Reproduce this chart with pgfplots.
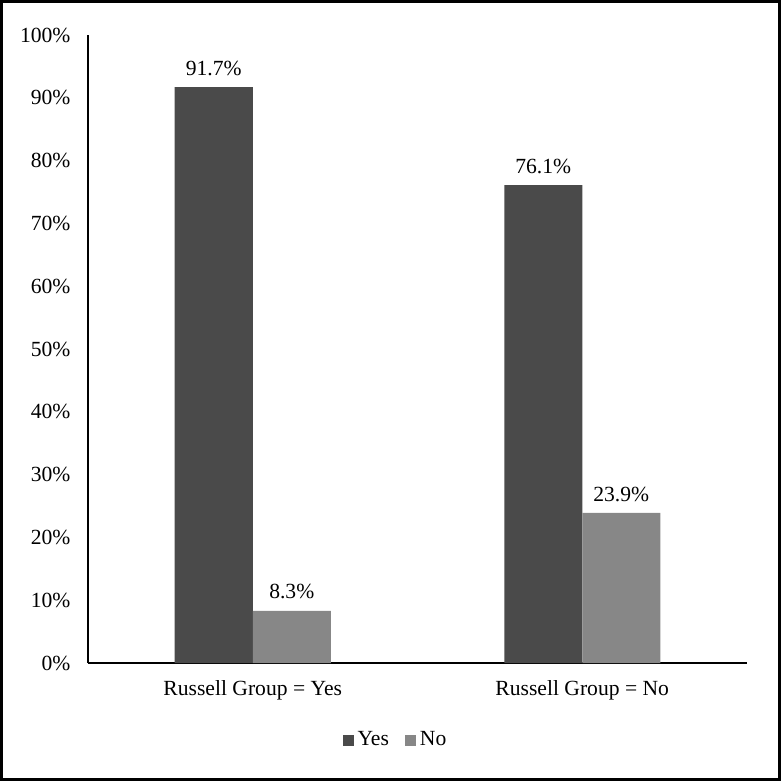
\documentclass[border=0pt]{standalone}
\usepackage{pgfplots}
\pgfplotsset{compat=1.18}
\usepackage{fontspec}
\setmainfont{Liberation Serif}
\definecolor{darkbar}{HTML}{4A4A4A}
\definecolor{lightbar}{HTML}{878787}
\begin{document}
\fontsize{10.8}{12.5}\selectfont
\begin{tikzpicture}
\useasboundingbox (-44pt,-59pt) rectangle (346.5pt,331.5pt);
\draw[line width=1.3pt] (-43.35pt,-58.35pt) rectangle (345.85pt,330.85pt);
\begin{axis}[
  at={(0,0)}, anchor=south west,
  scale only axis, width=329.5pt, height=314pt,
  /pgf/number format/assume math mode=true,
  font=\fontsize{10.8}{12.5}\selectfont,
  ybar=0pt, bar width=39pt,
  xmin=-0.5, xmax=1.5, ymin=0, ymax=100,
  axis x line*=bottom, axis y line*=left,
  axis line style={line width=0.8pt, black},
  xtick={0,1}, xticklabels={Russell Group = Yes, Russell Group = No},
  ytick={0,10,...,100},
  yticklabel={\pgfmathprintnumber{\tick}\%},
  major tick length=0pt,
  yticklabel style={xshift=-5pt},
  xticklabel style={yshift=-5pt},
  nodes near coords={\pgfmathprintnumber[fixed,precision=1,fixed zerofill]{\pgfplotspointmeta}\%},
  every node near coord/.append style={yshift=2pt, black},
  legend columns=2,
  legend style={at={(0.468,-0.1226)}, anchor=center, draw=none, fill=none,
    /tikz/every even column/.append style={column sep=6pt}},
  legend image code/.code={\fill[#1] (0pt,-2.9pt) rectangle (5.5pt,2.6pt);},
]
\addplot[fill=darkbar, draw=none] coordinates {(0,91.7) (1,76.1)};
\addplot[fill=lightbar, draw=none] coordinates {(0,8.3) (1,23.9)};
\legend{Yes, No}
\end{axis}
\end{tikzpicture}
\end{document}
